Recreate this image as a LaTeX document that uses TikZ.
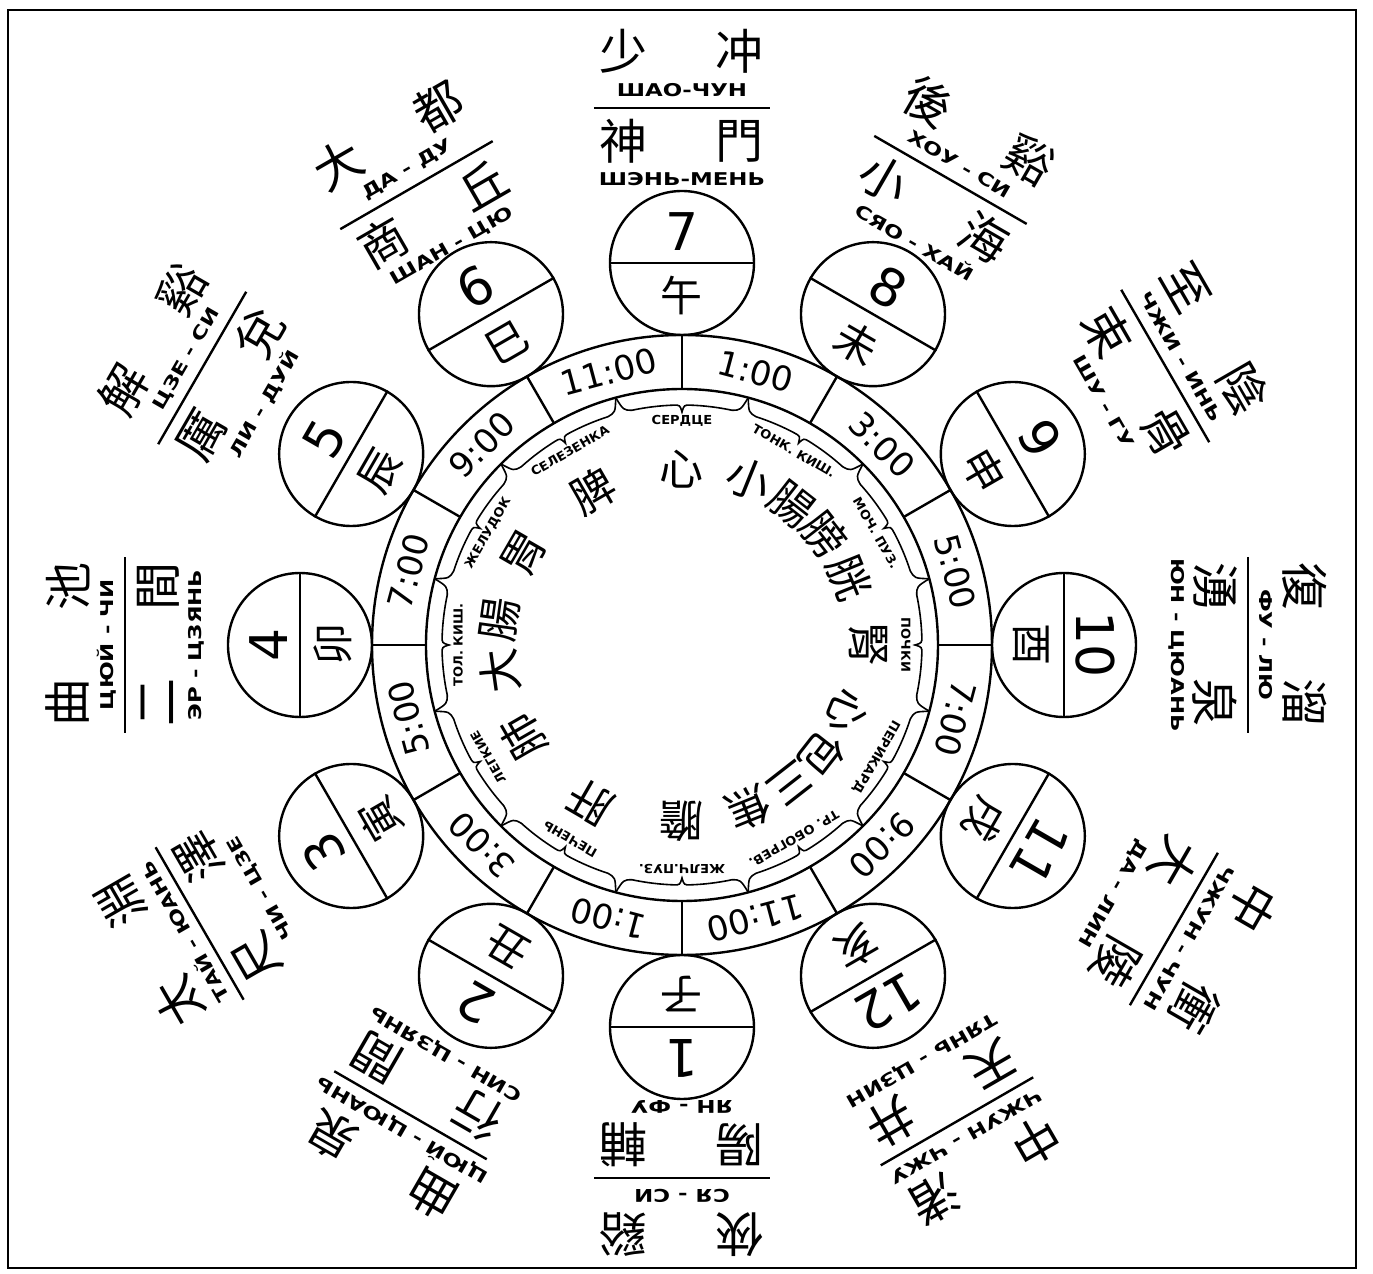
\documentclass[tikz,border=0pt]{standalone}
\usepackage{fontspec}
\setmainfont{DejaVu Sans}
\newfontfamily\cjkfont{Noto Sans CJK TC}
\newfontfamily\rusfont{DejaVu Sans}[UprightFont=* Bold, FakeStretch=1.3]
\newfontfamily\orgfont{DejaVu Sans}[UprightFont=* Bold, FakeStretch=1.05]

\tikzset{
  ring/.style={line width=1.2pt},
  hanzi/.style={font=\cjkfont\fontsize{24}{24}\selectfont, inner sep=0pt},
  translit/.style={font=\rusfont\fontsize{8.8}{8.8}\selectfont, inner sep=0pt},
  organ/.style={font=\orgfont\fontsize{6.2}{6.2}\selectfont, inner sep=0pt},
  organch/.style={font=\cjkfont\fontsize{22}{22}\selectfont, inner sep=0pt},
  hour/.style={font=\fontsize{17}{17}\selectfont, inner sep=0pt},
  numeral/.style={font=\fontsize{26}{26}\selectfont, inner sep=0pt},
  branch/.style={font=\cjkfont\fontsize{21}{21}\selectfont, inner sep=0pt},
  dial/.style={circle, draw, line width=1.2pt, minimum size=72pt, inner sep=0pt},
}

\begin{document}
\begin{tikzpicture}[x=0.5pt, y=0.5pt]
  \useasboundingbox (-682,-629) rectangle (691,645);
  \draw[line width=1pt] (-674,635) rectangle (674,-623);

  % time ring
  \draw[ring] (0,0) circle[radius=155pt];
  \draw[ring] (0,0) circle[radius=128pt];
  \foreach \k in {0,...,11}
    \draw[ring] ({90-30*\k}:256) -- ({90-30*\k}:310);
  \foreach \k/\t in {0/1:00,1/3:00,2/5:00,3/7:00,4/9:00,5/11:00,
                     6/1:00,7/3:00,8/5:00,9/7:00,10/9:00,11/11:00}{
    \pgfmathsetmacro\ang{75-30*\k}
    \node[hour, rotate=\ang-90] (hour\k) at (\ang:283) {\t};
  }

  % dials with numbers and branches
  \foreach \k/\br in {1/子,2/丑,3/寅,4/卯,5/辰,6/巳,7/午,8/未,9/申,10/酉,11/戌,12/亥}{
    \pgfmathsetmacro\ang{-60-30*\k}
    \pgfmathtruncatemacro\pa{mod(\ang+90+720,360)}
    \pgfmathtruncatemacro\pb{mod(\ang-90+720,360)}
    \node[dial] (dial\k) at (\ang:382) {};
    \draw[ring] (dial\k.\pa) -- (dial\k.\pb);
    \node[numeral, rotate=\ang-90] (num\k) at (\ang:413) {\k};
    \node[branch, rotate=\ang-90] (br\k) at (\ang:349) {\br};
  }

  % point names round the dials
  \foreach \ang/\rad/\outA/\outB/\outT/\inA/\inB/\inT [count=\n] in {
      90/537/少/冲/ШАО-ЧУН/神/門/ШЭНЬ-МЕНЬ,
      60/537/後/谿/ХОУ - СИ/小/海/СЯО - ХАЙ,
      30/558/至/陰/ЧЖИ - ИНЬ/束/骨/ШУ - ГУ,
      0/566/復/溜/ФУ - ЛЮ/湧/泉/ЮН - ЦЮАНЬ,
      -30/568/中/衝/ЧЖУН - ЧУН/大/陵/ДА - ЛИН,
      -60/550/中/渚/ЧЖУН - ЧЖУ/天/井/ТЯНЬ - ЦЗИН,
      -90/533/俠/谿/СЯ - СИ/陽/輔/ЯН - ФУ,
      -120/543/曲/泉/ЦЮЙ - ЦЮАНЬ/行/間/СИН - ЦЗЯНЬ,
      -150/557/太/淵/ТАЙ - ЮАНЬ/尺/澤/ЧИ - ЦЗЕ,
      180/557/曲/池/ЦЮЙ - ЧИ/二/間/ЭР - ЦЗЯНЬ,
      150/554/解/谿/ЦЗЕ - СИ/厲/兌/ЛИ - ДУЙ,
      120/531/大/都/ДА - ДУ/商/丘/ШАН - ЦЮ}{
    \begin{scope}[rotate=\ang-90]
      \node[hanzi, rotate=\ang-90] (pa\n) at (-58,\rad+57) {\outA};
      \node[hanzi, rotate=\ang-90] (pb\n) at (58,\rad+57) {\outB};
      \node[translit, rotate=\ang-90] (pt\n) at (0,\rad+18) {\outT};
      \node[hanzi, rotate=\ang-90] (qa\n) at (-58,\rad-33) {\inA};
      \node[hanzi, rotate=\ang-90] (qb\n) at (58,\rad-33) {\inB};
      \node[translit, rotate=\ang-90] (qt\n) at (0,\rad-71) {\inT};
      \draw[ring] (-88,\rad) -- (88,\rad);
    \end{scope}
  }

  % organ names and braces
  \foreach \a/\t [count=\n] in {90/СЕРДЦЕ,120/СЕЛЕЗЕНКА,150/ЖЕЛУДОК,180/ТОЛ. КИШ.,
      -150/ЛЕГКИЕ,-120/ПЕЧЕНЬ,-90/ЖЕЛЧ.ПУЗ.,-60/ТР. ОБОГРЕВ.,
      -30/ПЕРИКАРД,0/ПОЧКИ,30/МОЧ. ПУЗ.,60/ТОНК. КИШ.}{
    \node[organ, rotate=\a-90] (organ\n) at (\a:224) {\t};
    \draw[line width=0.8pt] ({\a+15}:256) .. controls ({\a+14}:242) .. ({\a+12}:240)
      arc[start angle=\a+12, end angle=\a+2, radius=120pt]
      .. controls ({\a+0.5}:240) .. ({\a}:233)
      .. controls ({\a-0.5}:240) .. ({\a-2}:240)
      arc[start angle=\a-2, end angle=\a-12, radius=120pt]
      .. controls ({\a-14}:242) .. ({\a-15}:256);
  }

  % organ characters
  \foreach \a/\r/\c [count=\n] in {90/176/心,120/178/脾,150/182/胃,-150/183/肺,
      -120/182/肝,-90/176/膽,0/186/腎}
    \node[organch, rotate=\a-90] (zang\n) at (\a:\r) {\c};
  \foreach \a/\r/\ca/\cb [count=\n] in {180/184/大/腸,-60/176/三/焦,-30/178/心/包,
      30/180/膀/胱,60/178/小/腸}{
    \node[organch, rotate=\a-82] (fua\n) at (\a+8:\r) {\ca};
    \node[organch, rotate=\a-98] (fub\n) at (\a-8:\r) {\cb};
  }
\end{tikzpicture}
\end{document}
